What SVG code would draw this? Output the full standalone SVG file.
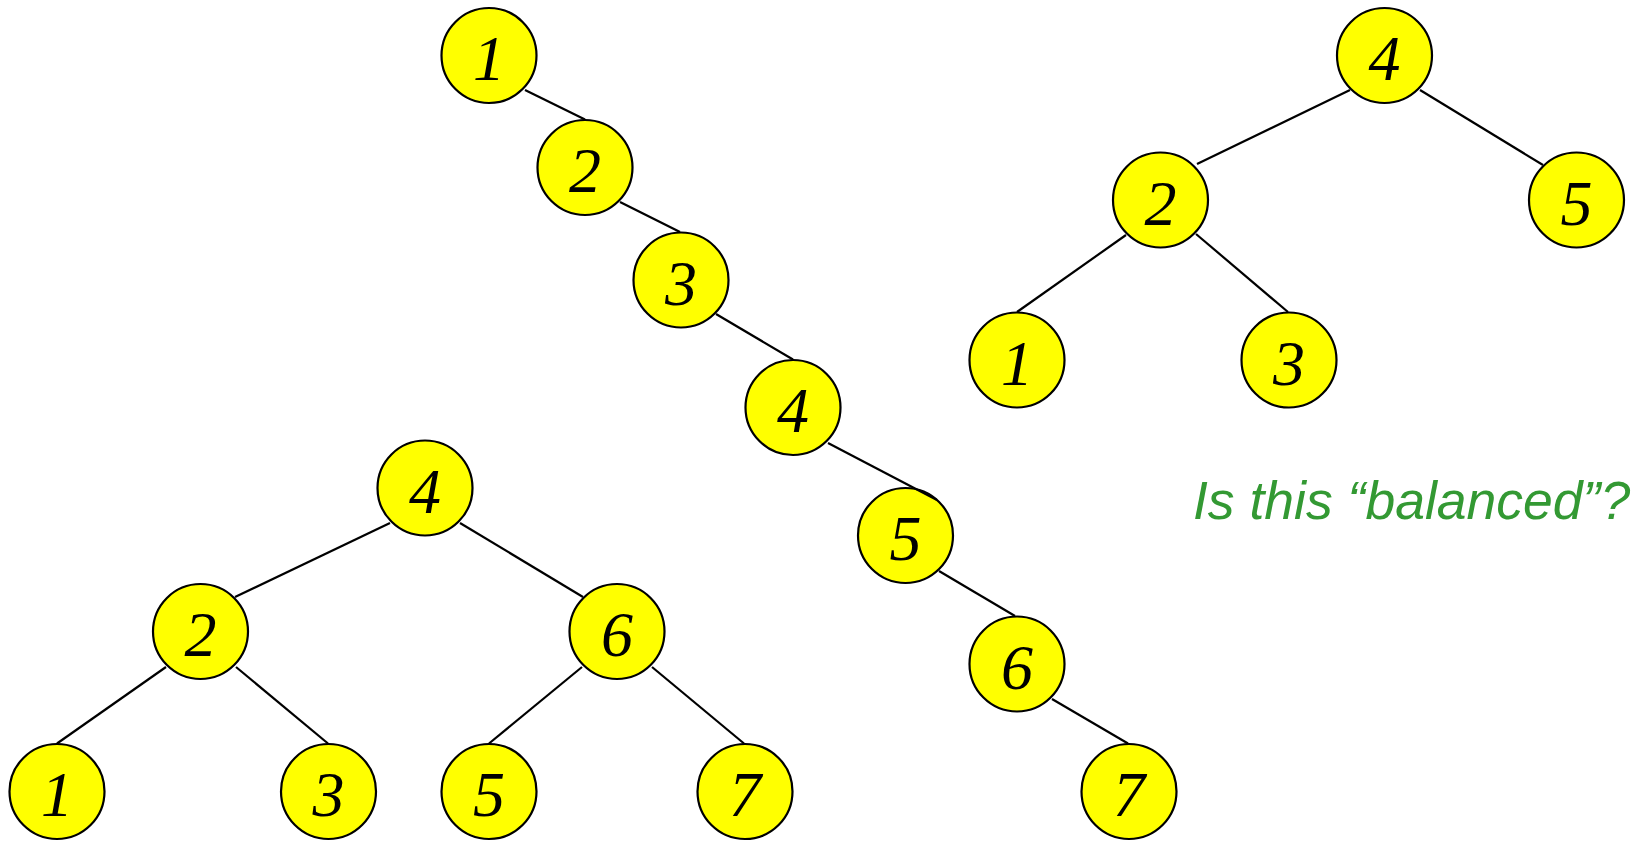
<svg xmlns="http://www.w3.org/2000/svg" width="1639" height="842" viewBox="0 0 1639 842">
<style>
.n circle{fill:#ffff00;stroke:#000;stroke-width:2.2}
.n text{font-family:"Liberation Serif","Times New Roman",serif;font-style:italic;font-size:64px;text-anchor:middle;fill:#000}
#edges line{stroke:#000;stroke-width:2.2}
.q{font-family:"Liberation Sans",Arial,sans-serif;font-style:italic;font-size:53.5px;fill:#339933}
</style>
<rect width="1639" height="842" fill="#fff"/>
<g id="nodes">
<g id="c1" class="n"><circle cx="489" cy="55.5" r="47.5"/><text x="489" y="80">1</text></g>
<g id="c2" class="n"><circle cx="585" cy="167.5" r="47.5"/><text x="585" y="192">2</text></g>
<g id="c3" class="n"><circle cx="681" cy="280" r="47.5"/><text x="681" y="304.5">3</text></g>
<g id="c4" class="n"><circle cx="793" cy="407.5" r="47.5"/><text x="793" y="432">4</text></g>
<g id="c5" class="n"><circle cx="905.5" cy="535.5" r="47.5"/><text x="905.5" y="560">5</text></g>
<g id="c6" class="n"><circle cx="1017" cy="664" r="47.5"/><text x="1017" y="688.5">6</text></g>
<g id="c7" class="n"><circle cx="1129" cy="791.5" r="47.5"/><text x="1129" y="816">7</text></g>

<g id="t4" class="n"><circle cx="1384.5" cy="55.5" r="47.5"/><text x="1384.5" y="80">4</text></g>
<g id="t2" class="n"><circle cx="1160.5" cy="200" r="47.5"/><text x="1160.5" y="224.5">2</text></g>
<g id="t5" class="n"><circle cx="1576.5" cy="200" r="47.5"/><text x="1576.5" y="224.5">5</text></g>
<g id="t1" class="n"><circle cx="1017" cy="360" r="47.5"/><text x="1017" y="384.5">1</text></g>
<g id="t3" class="n"><circle cx="1289" cy="360" r="47.5"/><text x="1289" y="384.5">3</text></g>

<g id="b4" class="n"><circle cx="425" cy="488" r="47.5"/><text x="425" y="512.5">4</text></g>
<g id="b2" class="n"><circle cx="200.5" cy="631.5" r="47.5"/><text x="200.5" y="656">2</text></g>
<g id="b6" class="n"><circle cx="617" cy="631.5" r="47.5"/><text x="617" y="656">6</text></g>
<g id="b1" class="n"><circle cx="57" cy="791.5" r="47.5"/><text x="57" y="816">1</text></g>
<g id="b3" class="n"><circle cx="328.5" cy="791.5" r="47.5"/><text x="328.5" y="816">3</text></g>
<g id="b5" class="n"><circle cx="489" cy="791.5" r="47.5"/><text x="489" y="816">5</text></g>
<g id="b7" class="n"><circle cx="745" cy="791.5" r="47.5"/><text x="745" y="816">7</text></g>
</g>
<g id="edges">
<line x1="525" y1="90" x2="585" y2="119.5"/>
<line x1="620" y1="202" x2="680" y2="232"/>
<line x1="716" y1="314" x2="793" y2="359.5"/>
<line x1="828" y1="443" x2="937" y2="500"/>
<line x1="939" y1="571" x2="1015" y2="616"/>
<line x1="1052" y1="699" x2="1128" y2="743.5"/>

<line x1="1350" y1="90" x2="1197" y2="164"/>
<line x1="1420" y1="90" x2="1543" y2="165"/>
<line x1="1126" y1="235" x2="1017" y2="312"/>
<line x1="1196" y1="234" x2="1288" y2="312"/>

<line x1="390" y1="523" x2="235" y2="597"/>
<line x1="460" y1="523" x2="583" y2="597"/>
<line x1="166" y1="667" x2="57" y2="743.5"/>
<line x1="236" y1="667" x2="328" y2="743.5"/>
<line x1="582" y1="667" x2="489" y2="743.5"/>
<line x1="652" y1="667" x2="744" y2="743.5"/>
</g>
<text class="q" x="1193" y="519">Is this “balanced”?</text>
</svg>
